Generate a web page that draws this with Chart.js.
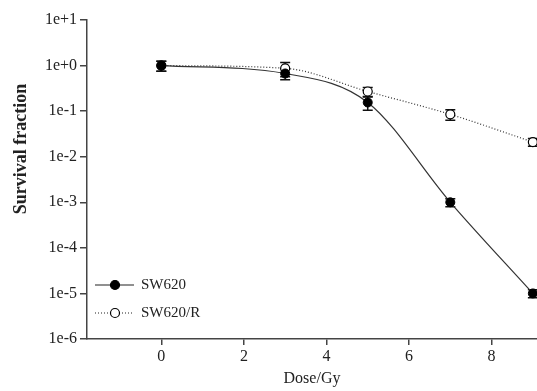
<!DOCTYPE html>
<html>
<head>
<meta charset="utf-8">
<script src="https://cdn.jsdelivr.net/npm/chart.js@4.4.1/dist/chart.umd.min.js"></script>
<style>
  html, body { margin: 0; padding: 0; background: #fff; }
  canvas { display: block; }
</style>
</head>
<body>
<canvas id="survivalChart" width="537" height="391"></canvas>
<script>
// dose (Gy) and survival fractions
const doses = [0, 3, 5, 7, 9];
const sw620 = [1.0, 0.67, 0.155, 0.001, 0.00001];
const sw620Err = [0.25, 0.18, 0.05, 0.0002, 0.000002];
const sw620R = [1.0, 0.87, 0.27, 0.085, 0.021];
const sw620RErr = [0.25, 0.3, 0.06, 0.022, 0.004];

const xTicks = [0, 2, 4, 6, 8];
const yTicks = [10, 1, 0.1, 0.01, 0.001, 0.0001, 0.00001, 0.000001];
const yTickLabels = ['1e+1', '1e+0', '1e-1', '1e-2', '1e-3', '1e-4', '1e-5', '1e-6'];

const FONT = "'Liberation Serif', 'Times New Roman', serif";
const INK = '#222';

const toPoints = (ys) => ys.map((y, i) => ({ x: doses[i], y }));

// error bars, drawn under the markers
const errorBars = {
    id: 'errorBars',
    beforeDatasetsDraw(chart) {
        const { ctx, scales: { x, y } } = chart;
        const errs = [sw620Err, sw620RErr];
        ctx.save();
        ctx.strokeStyle = '#111';
        ctx.lineWidth = 1.5;
        chart.data.datasets.forEach((ds, di) => {
            ds.data.forEach((p, i) => {
                const e = errs[di][i];
                const px = x.getPixelForValue(p.x);
                const top = y.getPixelForValue(p.y + e);
                const bot = y.getPixelForValue(Math.max(p.y - e, 1e-7));
                ctx.beginPath();
                ctx.moveTo(px, top); ctx.lineTo(px, bot);
                ctx.moveTo(px - 5, top); ctx.lineTo(px + 5, top);
                ctx.moveTo(px - 5, bot); ctx.lineTo(px + 5, bot);
                ctx.stroke();
            });
        });
        ctx.restore();
    }
};

// axis titles and the in-plot legend
const decorations = {
    id: 'decorations',
    afterDraw(chart) {
        const { ctx, chartArea } = chart;
        ctx.save();
        ctx.fillStyle = INK;

        // y title
        ctx.save();
        ctx.translate(21, 149);
        ctx.rotate(-Math.PI / 2);
        ctx.font = `bold 18px ${FONT}`;
        ctx.textAlign = 'center';
        ctx.textBaseline = 'middle';
        ctx.fillText('Survival fraction', 0, 0);
        ctx.restore();

        // x title
        ctx.font = `16px ${FONT}`;
        ctx.textAlign = 'center';
        ctx.textBaseline = 'middle';
        ctx.fillText('Dose/Gy', (chartArea.left + chartArea.right) / 2, 379);

        // legend
        const rows = [
            { label: 'SW620', dash: [], fill: '#000', y: 285 },
            { label: 'SW620/R', dash: [1, 2], fill: '#fff', y: 313 }
        ];
        rows.forEach(r => {
            ctx.strokeStyle = '#222';
            ctx.lineWidth = 1.2;
            ctx.setLineDash(r.dash);
            ctx.beginPath();
            ctx.moveTo(95, r.y); ctx.lineTo(134, r.y);
            ctx.stroke();
            ctx.setLineDash([]);
            ctx.beginPath();
            ctx.arc(115, r.y, 4.5, 0, Math.PI * 2);
            ctx.fillStyle = r.fill;
            ctx.fill();
            ctx.strokeStyle = '#000';
            ctx.stroke();
            ctx.fillStyle = INK;
            ctx.font = `15px ${FONT}`;
            ctx.textAlign = 'left';
            ctx.fillText(r.label, 141, r.y);
        });
        ctx.restore();
    }
};

new Chart(document.getElementById('survivalChart'), {
    type: 'line',
    data: {
        datasets: [
            {
                label: 'SW620',
                data: toPoints(sw620),
                borderColor: '#333',
                borderWidth: 1.2,
                cubicInterpolationMode: 'monotone',
                pointRadius: 4.5,
                pointBackgroundColor: '#000',
                pointBorderColor: '#000',
                pointBorderWidth: 1
            },
            {
                label: 'SW620/R',
                data: toPoints(sw620R),
                borderColor: '#333',
                borderWidth: 1.2,
                borderDash: [1, 2],
                cubicInterpolationMode: 'monotone',
                pointRadius: 4.5,
                pointBackgroundColor: '#fff',
                pointBorderColor: '#000',
                pointBorderWidth: 1.2
            }
        ]
    },
    options: {
        responsive: false,
        devicePixelRatio: 1,
        animation: false,
        layout: { autoPadding: false, padding: { top: 20, right: 0, left: 0, bottom: 0 } },
        plugins: { legend: { display: false }, tooltip: { enabled: false } },
        scales: {
            x: {
                type: 'linear',
                min: -1.8,
                max: 9.1,
                afterBuildTicks: (axis) => { axis.ticks = xTicks.map(v => ({ value: v })); },
                afterFit: (axis) => { axis.height = 52; },
                border: { display: true, color: '#444', width: 1.5 },
                grid: { drawOnChartArea: false, drawTicks: true, tickLength: 6, color: '#444', lineWidth: 1.5 },
                ticks: { color: INK, font: { family: FONT, size: 16 }, padding: 2, maxRotation: 0 }
            },
            y: {
                type: 'logarithmic',
                min: 1e-6,
                max: 10,
                afterBuildTicks: (axis) => { axis.ticks = yTicks.map(v => ({ value: v })); },
                afterFit: (axis) => { axis.width = 87; },
                border: { display: true, color: '#444', width: 1.5 },
                grid: { drawOnChartArea: false, drawTicks: true, tickLength: 7, color: '#444', lineWidth: 1.5 },
                ticks: {
                    color: INK,
                    font: { family: FONT, size: 16 },
                    padding: 3,
                    callback: (v, i) => yTickLabels[i]
                }
            }
        }
    },
    plugins: [errorBars, decorations]
});
</script>
</body>
</html>
